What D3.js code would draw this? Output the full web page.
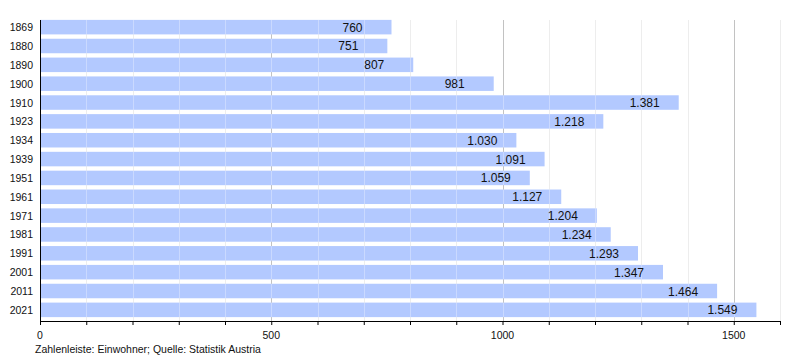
<!DOCTYPE html>
<html><head><meta charset="utf-8">
<script src="https://cdn.jsdelivr.net/npm/d3@7"></script>
<style>body{margin:0;background:#fff}svg{display:block;font-family:"Liberation Sans",Arial,sans-serif}</style>
</head><body><svg id="c" width="800" height="360"></svg>
<script>
const years = ["1869","1880","1890","1900","1910","1923","1934","1939","1951","1961","1971","1981","1991","2001","2011","2021"];
const population = [760,751,807,981,1381,1218,1030,1091,1059,1127,1204,1234,1293,1347,1464,1549];
const majorTicks = [0,500,1000,1500];
const footer = "Zahlenleiste: Einwohner; Quelle: Statistik Austria";

(function(){
const svg = d3.select("#c");
const x = d3.scaleLinear().domain([0,1600]).range([40,780]);
const y = d3.scaleBand().domain(years).range([18,319]).paddingInner(0.23).paddingOuter(0.1);
const plotTop = 20, plotBottom = 321;
const fmt = v => d3.format(",")(v).replace(/,/g,".");

// minor gridlines
svg.append("g").selectAll("line").data(d3.range(100,1700,100).filter(v=>v%500!==0))
  .join("line").attr("x1",d=>Math.round(x(d))+0.5).attr("x2",d=>Math.round(x(d))+0.5)
  .attr("y1",plotTop).attr("y2",plotBottom).attr("stroke","#e6e6e6").attr("stroke-width",1);
// major gridlines
svg.append("g").selectAll("line").data(majorTicks.filter(v=>v>0))
  .join("line").attr("x1",d=>Math.round(x(d))+0.5).attr("x2",d=>Math.round(x(d))+0.5)
  .attr("y1",plotTop).attr("y2",plotBottom).attr("stroke","#a8a8a8").attr("stroke-width",1);

// bars
svg.append("g").selectAll("rect").data(population).join("rect")
  .attr("x",x(0)).attr("y",(d,i)=>y(years[i]))
  .attr("width",d=>x(d)-x(0)).attr("height",y.bandwidth())
  .attr("fill","#b3c9ff");

// faint grid over bars
svg.append("g").selectAll("line").data(d3.range(100,1700,100))
  .join("line").attr("x1",d=>Math.round(x(d))+0.5).attr("x2",d=>Math.round(x(d))+0.5)
  .attr("y1",plotTop).attr("y2",plotBottom).attr("stroke","#fff").attr("stroke-opacity",0.3);

// value labels
svg.append("g").selectAll("text").data(population).join("text")
  .attr("x",d=>x(d)-(d<1000?29:19)).attr("y",(d,i)=>y(years[i])+y.bandwidth()/2+4.5)
  .attr("text-anchor","end").attr("font-size",12).attr("fill","#111")
  .text(d=>fmt(d));

// y labels
svg.append("g").selectAll("text").data(years).join("text")
  .attr("x",33).attr("y",d=>y(d)+y.bandwidth()/2+4)
  .attr("text-anchor","end").attr("font-size",10.5).attr("fill","#111").text(d=>d);

// y axis line
svg.append("line").attr("x1",40.5).attr("x2",40.5).attr("y1",plotTop).attr("y2",plotBottom).attr("stroke","#000");

// x axis
const xa = svg.append("g").attr("transform",`translate(0,${plotBottom})`)
  .call(d3.axisBottom(x).tickValues(d3.range(0,1700,100)).tickSize(4).tickFormat(""));
xa.select(".domain").attr("d",`M${x(0)},0.5H${x(1600)}`).attr("stroke","#000");
xa.selectAll(".tick line").attr("stroke","#000");
svg.append("g").selectAll("text").data(majorTicks).join("text")
  .attr("x",d=>x(d)).attr("y",339).attr("text-anchor","middle")
  .attr("font-size",10.5).attr("fill","#111").text(d=>d);

svg.append("text").attr("x",35).attr("y",353).attr("font-size",10.5).attr("fill","#111").text(footer);
})();
</script></body></html>
